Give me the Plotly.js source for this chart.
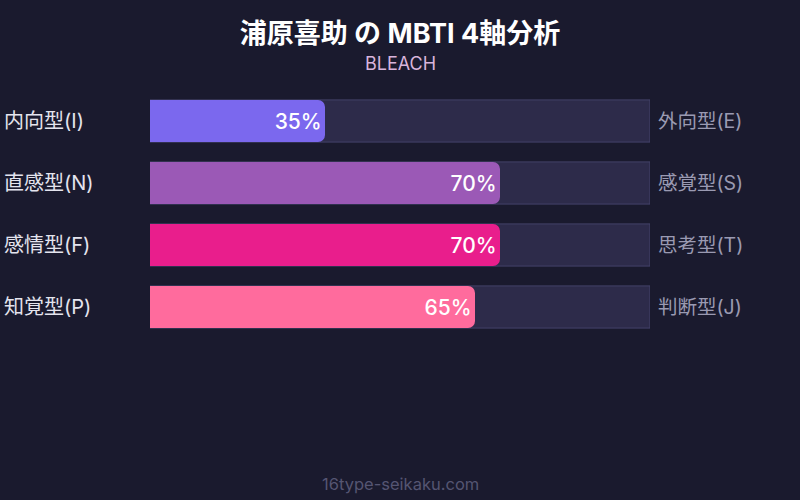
<!DOCTYPE html>
<html><head><meta charset="utf-8">
<script src="https://cdn.plot.ly/plotly-3.0.1.min.js"></script>
<style>html,body{margin:0;padding:0;background:#1a1a2e;}</style>
</head><body><div id="chart" style="width:800px;height:500px;"></div>
<script>
const leftLabels = ['内向型(I)', '直感型(N)', '感情型(F)', '知覚型(P)'];
const rightLabels = ['外向型(E)', '感覚型(S)', '思考型(T)', '判断型(J)'];
const values = [35, 70, 70, 65];
const barColors = ['#7b68ee', '#9b59b6', '#e91e8c', '#ff6b9d'];
const fullScale = [100, 100, 100, 100];
const titleText = '浦原喜助 の MBTI 4軸分析';
const subtitleText = 'BLEACH';
const footerText = '16type-seikaku.com';

const FONT = 'Inter, Roboto, "Noto Sans CJK JP", sans-serif';
const rows = leftLabels.map((_, i) => i);

const track = {
  type: 'bar', orientation: 'h', y: rows, x: fullScale, width: 0.68,
  marker: {color: '#2d2b4a', line: {color: '#44426a', width: 1}},
  hoverinfo: 'skip', showlegend: false, xaxis: 'x', yaxis: 'y'
};
const fill = {
  type: 'bar', orientation: 'h', y: rows, x: values, width: 0.68,
  marker: {color: barColors, cornerradius: 7},
  text: values.map(v => v + '%'), textposition: 'inside', insidetextanchor: 'end',
  textfont: {color: '#ffffff', size: 21, family: FONT, weight: 500},
  hoverinfo: 'skip', showlegend: false, xaxis: 'x', yaxis: 'y2'
};

const annotations = [];
rows.forEach(i => {
  annotations.push({xref: 'paper', yref: 'y', x: -0.296, y: i, xanchor: 'left', yanchor: 'middle',
    text: leftLabels[i], showarrow: false, font: {color: '#e4e4ee', size: 20, family: FONT}});
  annotations.push({xref: 'paper', yref: 'y', x: 1.012, y: i, xanchor: 'left', yanchor: 'middle',
    text: rightLabels[i], showarrow: false, font: {color: '#9a9ab2', size: 19.5, family: FONT}});
});
annotations.push({xref: 'paper', yref: 'paper', x: 0.5, y: 1.105, xanchor: 'center', yanchor: 'middle',
  text: subtitleText, showarrow: false, font: {color: '#d8b4dc', size: 18, family: FONT}});
annotations.push({xref: 'paper', yref: 'paper', x: 0.5, y: -0.59, xanchor: 'center', yanchor: 'middle',
  text: footerText, showarrow: false, font: {color: '#555572', size: 16.5, family: FONT}});

const layout = {
  width: 800, height: 500,
  paper_bgcolor: '#1a1a2e', plot_bgcolor: '#1a1a2e',
  margin: {l: 150, r: 150, t: 90, b: 162},
  title: {text: '<b>' + titleText + '</b>', x: 0.5, xanchor: 'center', y: 0.932, yanchor: 'middle',
    font: {color: '#ffffff', size: 27, family: FONT}},
  xaxis: {range: [0, 100], visible: false, fixedrange: true},
  yaxis: {range: [3.5, -0.5], visible: false, fixedrange: true},
  yaxis2: {range: [3.5, -0.5], visible: false, fixedrange: true, overlaying: 'y'},
  annotations: annotations,
  font: {family: FONT}
};
Plotly.newPlot('chart', [track, fill], layout, {displayModeBar: false, staticPlot: true});
</script></body></html>
